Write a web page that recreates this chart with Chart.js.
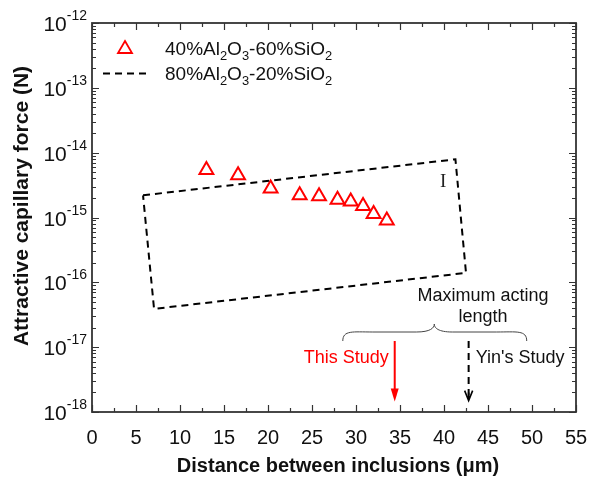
<!DOCTYPE html>
<html>
<head>
<meta charset="utf-8">
<script src="https://cdn.jsdelivr.net/npm/chart.js@4/dist/chart.umd.min.js"></script>
<style>
  body { margin: 0; background: #fff; }
  #wrap { width: 590px; height: 479px; position: relative; }
</style>
</head>
<body>
<div id="wrap"><canvas id="CapillaryChart"></canvas></div>
<script>
// measured points, 40%Al2O3-60%SiO2
const distance = [13.0, 16.6, 20.3, 23.6, 25.8, 27.9, 29.4, 30.8, 32.0, 33.5];
const force = [5.4e-15, 4.5e-15, 2.8e-15, 2.2e-15, 2.13e-15, 1.88e-15, 1.77e-15, 1.5e-15, 1.13e-15, 9.0e-16];

// dashed region I, 80%Al2O3-20%SiO2
const regionX = [5.8, 41.3, 42.5, 7.05, 5.8];
const regionY = [2.2e-15, 7.9e-15, 1.4e-16, 3.9e-17, 2.2e-15];

// maximum acting length markers
const thisStudyX = 34.4;
const yinStudyX = 42.8;
const arrowTop = 1.24e-17;
const arrowBottom = 1.5e-18;

const xTicks = [0, 5, 10, 15, 20, 25, 30, 35, 40, 45, 50, 55];
const yExponents = [-18, -17, -16, -15, -14, -13, -12];

const FONT = '"Liberation Sans", Arial, sans-serif';
const AXIS = "#333";

function pts(xs, ys) {
    return xs.map((x, i) => ({ x: x, y: ys[i] }));
}

// draws text with sub/superscript parts, returns width
function richText(ctx, parts, x, y, size, color) {
    let cx = x;
    ctx.fillStyle = color;
    ctx.textAlign = "left";
    ctx.textBaseline = "alphabetic";
    parts.forEach(([t, kind]) => {
        let s = size, dy = 0;
        if (kind === "sub") { s = size * 0.68; dy = size * 0.28; }
        if (kind === "sup") { s = size * 0.68; dy = -size * 0.45; }
        ctx.font = s + "px " + FONT;
        ctx.fillText(t, cx, y + dy);
        cx += ctx.measureText(t).width;
    });
    return cx - x;
}

const framePlugin = {
    id: "frame",
    afterDraw(chart) {
        const { ctx, chartArea: a, scales } = chart;
        const xs = scales.x, ys = scales.y;
        ctx.save();

        // ticks, pointing inward on all four sides
        ctx.strokeStyle = AXIS;
        ctx.lineWidth = 1.2;
        ctx.beginPath();
        for (let v = 0; v <= 55; v += 2.5) {
            const px = Math.round(xs.getPixelForValue(v)) + 0.5;
            const len = v % 5 === 0 ? 7 : 4;
            ctx.moveTo(px, a.bottom); ctx.lineTo(px, a.bottom - len);
            ctx.moveTo(px, a.top); ctx.lineTo(px, a.top + len);
        }
        yExponents.forEach(e => {
            for (let k = 1; k <= 9; k++) {
                if (e === -12 && k > 1) break;
                const py = Math.round(ys.getPixelForValue(k * Math.pow(10, e))) + 0.5;
                const len = k === 1 ? 7 : 4;
                ctx.moveTo(a.left, py); ctx.lineTo(a.left + len, py);
                ctx.moveTo(a.right, py); ctx.lineTo(a.right - len, py);
            }
        });
        ctx.stroke();

        ctx.lineWidth = 1.8;
        ctx.strokeRect(a.left, a.top, a.right - a.left, a.bottom - a.top);

        // x tick labels
        ctx.fillStyle = "#111";
        ctx.font = "20px " + FONT;
        ctx.textAlign = "center";
        ctx.textBaseline = "middle";
        xTicks.forEach(v => ctx.fillText(String(v), xs.getPixelForValue(v), a.bottom + 26));

        // y tick labels 10^n
        yExponents.forEach(e => {
            const py = ys.getPixelForValue(Math.pow(10, e));
            ctx.font = "14px " + FONT;
            const supW = ctx.measureText(String(e)).width;
            ctx.font = "21px " + FONT;
            const mainW = ctx.measureText("10").width;
            const x0 = a.left - 5 - supW - mainW;
            ctx.textAlign = "left";
            ctx.textBaseline = "alphabetic";
            ctx.fillText("10", x0, py + 8);
            ctx.font = "14px " + FONT;
            ctx.fillText(String(e), x0 + mainW, py - 3);
        });

        // axis titles
        ctx.font = "bold 20px " + FONT;
        ctx.textAlign = "center";
        ctx.textBaseline = "middle";
        ctx.fillText("Distance between inclusions (\u03bcm)", (a.left + a.right) / 2 + 4, 466);
        ctx.save();
        ctx.translate(22, 206);
        ctx.rotate(-Math.PI / 2);
        ctx.font = "bold 21px " + FONT;
        ctx.fillText("Attractive capillary force (N)", 0, 0);
        ctx.restore();

        // legend
        const legTri = { x: 125, y: 48 };
        ctx.strokeStyle = "#ff0000";
        ctx.lineWidth = 1.8;
        ctx.beginPath();
        ctx.moveTo(legTri.x, legTri.y - 7);
        ctx.lineTo(legTri.x + 7, legTri.y + 5);
        ctx.lineTo(legTri.x - 7, legTri.y + 5);
        ctx.closePath();
        ctx.stroke();
        richText(ctx, [["40%Al", "n"], ["2", "sub"], ["O", "n"], ["3", "sub"], ["-60%SiO", "n"], ["2", "sub"]], 165, 55, 19, "#111");
        ctx.strokeStyle = "#000";
        ctx.lineWidth = 2;
        ctx.setLineDash([7, 5]);
        ctx.beginPath();
        ctx.moveTo(103, 73.5); ctx.lineTo(150, 73.5);
        ctx.stroke();
        ctx.setLineDash([]);
        richText(ctx, [["80%Al", "n"], ["2", "sub"], ["O", "n"], ["3", "sub"], ["-20%SiO", "n"], ["2", "sub"]], 165, 80, 19, "#111");

        // region label
        ctx.font = "19px \"Liberation Serif\", \"DejaVu Serif\", serif";
        ctx.fillStyle = "#222";
        ctx.textAlign = "center";
        ctx.textBaseline = "middle";
        ctx.fillText("I", xs.getPixelForValue(39.9), ys.getPixelForValue(3.5e-15));

        // acting length annotation
        const braceL = xs.getPixelForValue(28.5), braceR = xs.getPixelForValue(49.4);
        const braceM = xs.getPixelForValue(38.9);
        const bTop = 324, bBot = 341;
        ctx.strokeStyle = "#444";
        ctx.lineWidth = 1;
        ctx.beginPath();
        ctx.moveTo(braceL, bBot);
        ctx.bezierCurveTo(braceL, bTop + 6, braceL + 10, bTop + 8, braceL + 30, bTop + 8);
        ctx.lineTo(braceM - 18, bTop + 8);
        ctx.bezierCurveTo(braceM - 4, bTop + 8, braceM, bTop + 4, braceM, bTop);
        ctx.bezierCurveTo(braceM, bTop + 4, braceM + 4, bTop + 8, braceM + 18, bTop + 8);
        ctx.lineTo(braceR - 30, bTop + 8);
        ctx.bezierCurveTo(braceR - 10, bTop + 8, braceR, bTop + 6, braceR, bBot);
        ctx.stroke();

        ctx.fillStyle = "#111";
        ctx.font = "18px " + FONT;
        ctx.textAlign = "center";
        ctx.textBaseline = "middle";
        ctx.fillText("Maximum acting", 483, 296);
        ctx.fillText("length", 483, 317);

        ctx.textAlign = "right";
        ctx.fillStyle = "#ff0000";
        ctx.fillText("This Study", xs.getPixelForValue(thisStudyX) - 6, 358);
        ctx.textAlign = "left";
        ctx.fillStyle = "#111";
        ctx.fillText("Yin's Study", xs.getPixelForValue(yinStudyX) + 7, 358);

        // arrow heads
        const tip = ys.getPixelForValue(arrowBottom);
        const rx = xs.getPixelForValue(thisStudyX);
        ctx.fillStyle = "#ff0000";
        ctx.beginPath();
        ctx.moveTo(rx, tip + 1);
        ctx.lineTo(rx - 4, tip - 12);
        ctx.lineTo(rx + 4, tip - 12);
        ctx.closePath();
        ctx.fill();
        const bx = xs.getPixelForValue(yinStudyX);
        ctx.strokeStyle = "#000";
        ctx.lineWidth = 1.6;
        ctx.beginPath();
        ctx.moveTo(bx - 4, tip - 10);
        ctx.lineTo(bx, tip);
        ctx.lineTo(bx + 4, tip - 10);
        ctx.moveTo(bx, tip - 8); ctx.lineTo(bx, tip);
        ctx.stroke();

        ctx.restore();
    }
};

function CapillaryChart() {
    const ctx = document.getElementById("CapillaryChart");

    new Chart(ctx, {
        type: "scatter",
        data: {
            datasets: [
                {
                    label: "80%Al2O3-20%SiO2",
                    data: pts(regionX, regionY),
                    showLine: true,
                    borderColor: "#000",
                    borderWidth: 2,
                    borderDash: [7, 5],
                    pointRadius: 0,
                    tension: 0,
                },
                {
                    label: "40%Al2O3-60%SiO2",
                    data: pts(distance, force),
                    pointStyle: "triangle",
                    pointRadius: 8,
                    borderColor: "#ff0000",
                    backgroundColor: "rgba(255,255,255,0)",
                    borderWidth: 2,
                },
                {
                    label: "This Study",
                    data: pts([thisStudyX, thisStudyX], [arrowTop, arrowBottom * 1.35]),
                    showLine: true,
                    borderColor: "#ff0000",
                    borderWidth: 2,
                    pointRadius: 0,
                },
                {
                    label: "Yin's Study",
                    data: pts([yinStudyX, yinStudyX], [arrowTop, arrowBottom * 1.2]),
                    showLine: true,
                    borderColor: "#000",
                    borderWidth: 2,
                    borderDash: [7, 5],
                    pointRadius: 0,
                },
            ],
        },
        options: {
            responsive: true,
            maintainAspectRatio: false,
            animation: false,
            layout: {
                padding: { left: 92, top: 23, right: 14, bottom: 67 },
            },
            scales: {
                x: { type: "linear", min: 0, max: 55, display: false },
                y: { type: "logarithmic", min: 1e-18, max: 1e-12, display: false },
            },
            plugins: {
                legend: { display: false },
                tooltip: { enabled: false },
            },
        },
        plugins: [framePlugin],
    });
}

CapillaryChart();
</script>
</body>
</html>
